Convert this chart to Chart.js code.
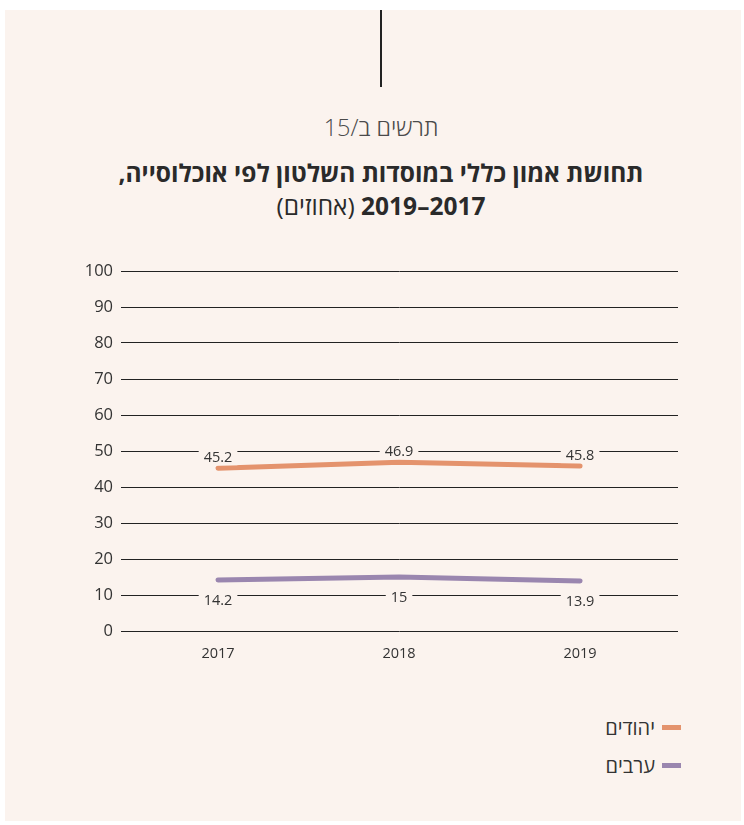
<!DOCTYPE html>
<html><head><meta charset="utf-8">
<script src="https://cdn.jsdelivr.net/npm/chart.js@4/dist/chart.umd.min.js"></script>
<style>
html,body{margin:0;padding:0;background:#fff;width:744px;height:825px;overflow:hidden;font-family:"Open Sans","Liberation Sans","DejaVu Sans",sans-serif;color:#333}
#panel{position:absolute;left:5px;top:10px;width:736px;height:811px;background:#FBF3EE}
#vline{position:absolute;left:380px;top:10px;width:2px;height:77px;background:#222}
.t{position:absolute;left:18px;width:726px;text-align:center;direction:rtl;white-space:nowrap}
#sub{top:112px;font-size:23.5px;font-weight:300;line-height:30px;color:#4a4a4a}
#t1{top:158px;font-size:24.5px;font-weight:700;line-height:30px;color:#2a2a2a}
#t2{top:191px;font-size:24.5px;line-height:30px;color:#2a2a2a}
#t2 b{font-weight:700}
#wrap{position:absolute;left:0;top:240px;width:744px;height:440px}
#legend{position:absolute;right:63px;top:708px;direction:rtl}
.li{display:flex;align-items:center;height:38px;font-size:20px;color:#333}
.sw{width:19px;height:5px;margin-left:7px}
</style></head>
<body>
<div id="panel"></div>
<div id="vline"></div>
<div class="t" id="sub">תרשים ב/15</div>
<div class="t" id="t1">תחושת אמון כללי במוסדות השלטון לפי אוכלוסייה,</div>
<div class="t" id="t2"><b>2017–2019</b> (אחוזים)</div>
<div id="wrap"><canvas id="c" width="744" height="440"></canvas></div>
<div id="legend"></div>
<script>
// ---- data ----
const years = [2017, 2018, 2019];
const jewsValues = [45.2, 46.9, 45.8];
const arabsValues = [14.2, 15, 13.9];
const seriesNames = ['יהודים', 'ערבים'];
const yTickValues = [0, 10, 20, 30, 40, 50, 60, 70, 80, 90, 100];

// ---- styles ----
const seriesColors = ['#E4936D', '#9A86AF'];
const labelSides = ['above', 'below'];
const bg = '#FBF3EE';
const FONT = '"Open Sans","Liberation Sans","DejaVu Sans",sans-serif';

const valueLabels = {
  id: 'valueLabels',
  afterDatasetsDraw(chart) {
    const ctx = chart.ctx;
    ctx.save();
    ctx.font = '14.5px ' + FONT;
    ctx.textAlign = 'center';
    ctx.textBaseline = 'middle';
    chart.data.datasets.forEach((ds, di) => {
      const meta = chart.getDatasetMeta(di);
      meta.data.forEach((pt, i) => {
        const txt = String(ds.data[i].y);
        const cy = pt.y + (labelSides[di] === 'above' ? -11 : 20);
        const w = ctx.measureText(txt).width + 10;
        ctx.fillStyle = bg;
        ctx.fillRect(pt.x - w / 2, cy - 8, w, 16);
        ctx.fillStyle = '#333';
        ctx.fillText(txt, pt.x, cy + 1);
      });
    });
    ctx.restore();
  }
};

const datasets = [jewsValues, arabsValues].map((vals, k) => ({
  label: seriesNames[k],
  data: years.map((yr, i) => ({ x: yr, y: vals[i] })),
  borderColor: seriesColors[k],
  backgroundColor: seriesColors[k],
  borderWidth: 5,
  borderCapStyle: 'round',
  borderJoinStyle: 'round',
  pointRadius: 0,
  tension: 0,
  fill: false
}));

new Chart(document.getElementById('c'), {
  type: 'line',
  data: { datasets },
  plugins: [valueLabels],
  options: {
    responsive: false,
    animation: false,
    devicePixelRatio: 1,
    layout: { padding: { top: 31, right: 66, left: 0, bottom: 0 } },
    plugins: { legend: { display: false }, tooltip: { enabled: false } },
    scales: {
      x: {
        type: 'linear',
        min: 2016.464,
        max: 2019.541,
        afterFit: s => { s.height = 49; },
        afterBuildTicks: s => { s.ticks = years.map(v => ({ value: v })); },
        grid: { display: false, drawTicks: false },
        border: { display: false },
        ticks: {
          padding: 14,
          color: '#333',
          font: { size: 14.5, family: FONT },
          callback: v => String(v)
        }
      },
      y: {
        min: 0,
        max: 100,
        afterFit: s => { s.width = 121; },
        afterBuildTicks: s => { s.ticks = yTickValues.map(v => ({ value: v })); },
        grid: { color: '#222', lineWidth: 1, drawTicks: false },
        border: { display: false },
        ticks: {
          padding: 8,
          color: '#333',
          font: { size: 16.5, family: FONT }
        }
      }
    }
  }
});

const lg = document.getElementById('legend');
seriesNames.forEach((n, k) => {
  const row = document.createElement('div');
  row.className = 'li';
  const sw = document.createElement('span');
  sw.className = 'sw';
  sw.style.background = seriesColors[k];
  const tx = document.createElement('span');
  tx.textContent = n;
  row.appendChild(sw);
  row.appendChild(tx);
  lg.appendChild(row);
});
</script>
</body></html>
